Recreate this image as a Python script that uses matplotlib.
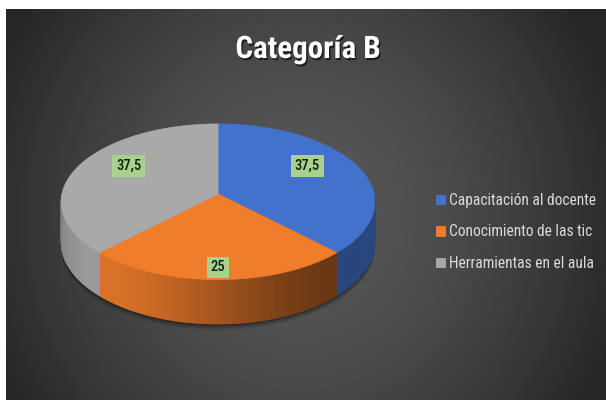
import os
import numpy as np
import matplotlib
matplotlib.use('Agg')
import matplotlib.pyplot as plt
from matplotlib.patches import Polygon
import matplotlib.patheffects as pe
import matplotlib.colors as mcolors
from matplotlib import font_manager as fm

# ---- data ----
title = "Categoría B"
categories = ["Capacitación al docente", "Conocimiento de las tic", "Herramientas en el aula"]
values = [37.5, 25, 37.5]
value_labels = ["37,5", "25", "37,5"]

# ---- style ----
top_colors = ["#4272CC", "#EF7D2C", "#A9A9A9"]
side_floor = [0.62, 0.0, 0.0]
plt.rcParams['font.family'] = ['Liberation Sans', 'DejaVu Sans']


def find_narrow(weight):
    prefs = ['notosans-semicondensed', 'opensans_semicondensed', 'opensans-semicondensed',
             'liberationsansnarrow', 'notosans-condensed', 'roboto_condensed',
             'robotocondensed', 'dejavusanscondensed', 'opensans_condensed',
             'opensans-condensed']
    weights = ['bold', 'light', 'thin', 'black', 'medium', 'heavy', 'italic', 'oblique']
    files = sorted({f.fname for f in fm.fontManager.ttflist})
    for p in prefs:
        for fn in files:
            b = os.path.basename(fn).lower().replace(' ', '')
            if not b.startswith(p):
                continue
            rest = b[len(p):]
            if 'italic' in rest or 'oblique' in rest:
                continue
            if weight == 'bold':
                if 'bold' in rest and not any(x in rest for x in ['semibold', 'extrabold', 'demibold', 'ultrabold']):
                    return fn
            elif weight == 'medium':
                if 'medium' in rest or ('semibold' in rest):
                    return fn
            else:
                if not any(w in rest for w in weights):
                    return fn
    return None


def fprop(weight, size):
    fn = find_narrow(weight)
    if fn is None and weight == 'medium':
        fn = find_narrow('normal')
    if fn:
        return fm.FontProperties(fname=fn, size=size)
    return fm.FontProperties(family=['Liberation Sans', 'DejaVu Sans'],
                             weight='bold' if weight == 'bold' else 'normal', size=size)


W, H = 606, 400
fig = plt.figure(figsize=(W / 100, H / 100), dpi=100, facecolor='white')
ax = fig.add_axes([0, 0, 1, 1])
ax.set_xlim(0, W)
ax.set_ylim(H, 0)
ax.axis('off')
renderer = fig.canvas.get_renderer()


def fit_size(text, prop, target_px):
    t = ax.text(0, 0, text, fontproperties=prop)
    w = t.get_window_extent(renderer).width
    t.remove()
    return prop.get_size_in_points() * target_px / w


# background radial gradient
xs = np.arange(6, W) + 0.5
ys = np.arange(9, H) + 0.5
X, Y = np.meshgrid(xs, ys)
r = np.sqrt(((X - 300) / 310) ** 2 + ((Y - 215) / 330) ** 2)
g = np.clip(88 - 44 * r ** 1.6, 38, 255) / 255
ax.imshow(np.dstack([g, g, g]), extent=(6, W, H, 9), aspect='auto', zorder=0,
          interpolation='bilinear')

# pie geometry (perspective ellipse)
cx, cy, rx, ry, k, depth = 218, 194, 156, 77, 0.1, 40


def proj(theta):
    u, v = np.cos(theta), np.sin(theta)
    w = 1 + k * v
    return cx + rx * u / w, cy - ry * v / w, w


vals = np.array(values, dtype=float)
fracs = vals / vals.sum()
bounds = np.pi / 2 - 2 * np.pi * np.concatenate([[0], np.cumsum(fracs)])

# shadow under the pie
tt = np.linspace(0, 2 * np.pi, 360)
sx, sy, sw = proj(tt)
for off, a in [(6, 0.10), (4, 0.15), (2, 0.25)]:
    ax.add_patch(Polygon(np.column_stack([sx, sy + depth / sw + off]), closed=True,
                         fc='black', ec='none', alpha=a, zorder=1))

# side walls
light = np.deg2rad(225)
for i in range(len(vals)):
    t0, t1 = bounds[i], bounds[i + 1]
    n = max(2, int(np.degrees(t0 - t1)))
    ts = np.linspace(t1, t0, n + 1)
    base = np.array(mcolors.to_rgb(top_colors[i]))
    for a, b in zip(ts[:-1], ts[1:]):
        m = 0.5 * (a + b)
        if np.sin(m) >= 0:
            continue
        d = np.cos(m - light)
        shade = max(0.45 + 0.47 * (max(d, 0) ** 2), side_floor[i])
        col = np.clip(base * shade, 0, 1)
        xa, ya, wa = proj(a)
        xb, yb, wb = proj(b)
        quad = [(xa, ya), (xb, yb), (xb, yb + depth / wb), (xa, ya + depth / wa)]
        ax.add_patch(Polygon(quad, closed=True, fc=col, ec=col, lw=0.6, zorder=2))

# top faces
handles = []
for i in range(len(vals)):
    t0, t1 = bounds[i], bounds[i + 1]
    ts = np.linspace(t0, t1, 200)
    px, py, _ = proj(ts)
    pts = np.vstack([[cx, cy], np.column_stack([px, py])])
    p = Polygon(pts, closed=True, fc=top_colors[i], ec=top_colors[i], lw=0.6, zorder=3)
    ax.add_patch(p)
    handles.append(p)

# data labels
lab_prop = fprop('medium', 10)
lab_prop.set_size(fit_size("37,5", lab_prop, 25))
for i in range(len(vals)):
    mid = 0.5 * (bounds[i] + bounds[i + 1])
    lx = cx + rx * 0.62 * np.cos(mid)
    ly = cy - ry * 0.95 * np.sin(mid)
    ax.text(lx, ly, value_labels[i], ha='center', va='center', fontproperties=lab_prop,
            color='#142014', zorder=5,
            bbox=dict(boxstyle='square,pad=0.25', fc='#A9D18E', ec='none'))

# title
title_prop = fprop('bold', 20)
title_prop.set_size(fit_size(title, title_prop, 145))
ax.text(308, 58, title, ha='center', va='baseline', fontproperties=title_prop,
        color='white', zorder=5,
        path_effects=[pe.withSimplePatchShadow(offset=(1, -1.5), shadow_rgbFace='black', alpha=0.6)])

# legend
leg_prop = fprop('normal', 10)
leg_prop.set_size(fit_size(categories[0], leg_prop, 147))
leg = ax.legend(handles=handles, labels=categories, loc='center left',
                bbox_to_anchor=(436, 232), bbox_transform=ax.transData,
                frameon=False, prop=leg_prop, handlelength=0.6, handleheight=0.55,
                handletextpad=0.25, labelspacing=1.05, borderpad=0, borderaxespad=0)
for t in leg.get_texts():
    t.set_color('#D9D9D9')

fig.savefig('out.png', dpi=100, facecolor='white')
